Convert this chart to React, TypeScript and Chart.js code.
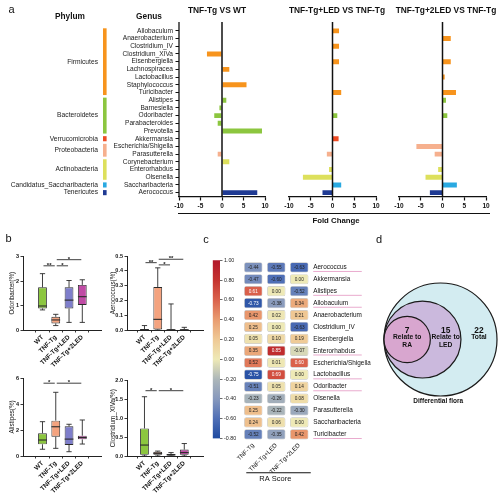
import React, { useEffect, useRef } from 'react';
import { Chart, registerables } from 'chart.js';

Chart.register(...registerables);

const FONT = "Arial, 'Liberation Sans', Helvetica, sans-serif";

// ===== Panel a: fold change by genus =====
const genera = ['Allobaculum', 'Anaerobacterium', 'Clostridium_IV', 'Clostridium_XIVa', 'Eisenbergiella', 'Lachnospiracea', 'Lactobacillus', 'Staphylococcus', 'Turicibacter', 'Alistipes', 'Barnesiella', 'Odoribacter', 'Parabacteroides', 'Prevotella', 'Akkermansia', 'Escherichia/Shigella', 'Parasutterella', 'Corynebacterium', 'Enterorhabdus', 'Olsenella', 'Saccharibacteria', 'Aerococcus'];
const phyla = ['Firmicutes', 'Bacteroidetes', 'Verrucomicrobia', 'Proteobacteria', 'Actinobacteria', 'Candidatus_Saccharibacteria', 'Tenericutes'];
const genusPhylum = [0, 0, 0, 0, 0, 0, 0, 0, 0, 1, 1, 1, 1, 1, 2, 3, 3, 4, 4, 4, 5, 6];
const phylumColors = ['#F7941D', '#8CC63F', '#EF4B24', '#F6B08E', '#DDE05C', '#29A9E1', '#1F3A93'];
const foldTgVsWT = [null, null, null, -3.5, null, 1.7, null, 5.7, null, 1.0, -0.6, -1.8, -1.0, 9.3, null, null, -1.0, 1.7, null, null, null, 8.2];
const foldLedVsTg = [1.5, null, 1.5, null, 1.5, null, null, null, 2.0, null, null, 1.1, null, null, 1.4, null, -1.3, null, -0.8, -6.8, 2.0, -2.3];
const fold2LedVsTg = [null, 1.9, null, null, 1.9, null, 0.5, null, 3.1, 0.8, null, 1.1, null, null, null, -6.0, -1.8, null, -1.0, -3.9, 3.3, -2.9];
const foldTitles = ['TNF-Tg VS WT', 'TNF-Tg+LED VS TNF-Tg', 'TNF-Tg+2LED VS TNF-Tg'];

// ===== Panel b: box plots, each group = [min, q1, median, q3, max] =====
const groups = ['WT', 'TNF-Tg', 'TNF-Tg+LED', 'TNF-Tg+2LED'];
const groupColors = ['#8CC63F', '#F4A37F', '#7E7ECB', '#C04BA5'];
const odoribacterStats = [[0.82, 0.88, 0.98, 1.74, 2.3], [0.18, 0.27, 0.41, 0.54, 0.64], [0.31, 0.88, 1.22, 1.74, 2.02], [0.31, 1.02, 1.36, 1.84, 2.05]];
const odoribacterSig = [[0, 1, '**', 2.62], [1, 2, '*', 2.62], [1, 3, '*', 2.87]];
const aerococcusStats = [[0, 0, 0.003, 0.006, 0.03], [0, 0.004, 0.072, 0.29, 0.42], [0, 0, 0.002, 0.005, 0.176], [0, 0, 0.002, 0.004, 0.018]];
const aerococcusSig = [[0, 1, '**', 0.455], [1, 2, '*', 0.44], [1, 3, '**', 0.478]];
const alistipesStats = [[0.52, 0.9, 1.23, 1.75, 2.64], [0.59, 1.48, 2.25, 2.72, 4.9], [0.33, 0.85, 1.3, 2.28, 2.44], [0.92, 1.28, 1.42, 1.56, 2.77]];
const alistipesSig = [[0, 1, '*', 5.6], [1, 3, '*', 5.6]];
const clostridiumStats = [[0, 0.03, 0.29, 0.73, 1.57], [0, 0.03, 0.07, 0.11, 0.13], [0, 0.01, 0.03, 0.05, 0.09], [0, 0.03, 0.09, 0.17, 0.33]];
const clostridiumSig = [[0, 1, '*', 1.73], [1, 3, '*', 1.73]];

// ===== Panel c: RA score heatmap =====
const raGenera = ['Aerococcus', 'Akkermansia', 'Alistipes', 'Allobaculum', 'Anaerobacterium', 'Clostridium_IV', 'Eisenbergiella', 'Enterorhabdus', 'Escherichia/Shigella', 'Lactobacillus', 'Odoribacter', 'Olsenella', 'Parasutterella', 'Saccharibacteria', 'Turicibacter'];
const raGroups = ['TNF-Tg', 'TNF-Tg+LED', 'TNF-Tg+2LED'];
const raScoreTg = [-0.44, -0.47, 0.61, -0.73, 0.42, 0.25, 0.05, 0.35, 0.52, -0.75, -0.51, -0.23, 0.25, 0.24, -0.52];
const raScoreLed = [-0.55, -0.60, 0.00, -0.38, 0.02, 0.00, 0.10, 0.85, 0.01, 0.69, 0.05, -0.26, -0.22, 0.06, -0.35];
const raScore2Led = [-0.63, 0.00, -0.52, 0.34, 0.21, -0.63, 0.19, -0.07, 0.60, 0.00, 0.14, 0.08, -0.30, 0.00, 0.42];
const raUnderlined = ['Aerococcus', 'Alistipes', 'Allobaculum', 'Enterorhabdus', 'Lactobacillus', 'Odoribacter', 'Turicibacter'];
const corrMin = -0.8;
const corrMax = 1.0;
const corrStops: [number, string][] = [[-0.8, '#1E4AA0'], [-0.6, '#4F6FB6'], [-0.4, '#8799BD'], [-0.2, '#ADB7B9'], [0, '#EEE9B6'], [0.2, '#EFC995'], [0.4, '#E99C70'], [0.6, '#DA624C'], [0.8, '#C5332F'], [1.0, '#B2182B']];

// ===== Panel d: nested sets =====
const vennCounts = [22, 15, 7];
const vennLines = [['Total'], ['Relate to', 'LED'], ['Relate to', 'RA']];
const vennRadius = [1, 0.681, 0.41];
const vennColors = ['#D3ECF1', '#CBB9DD', '#D8A6CF'];
const vennXMin = -1.1062, vennXMax = 1.0177, vennYMin = -1.336, vennYMax = 1.584;
const vennCanvasW = 120;

// ---------- helpers ----------
function hexToRgb(h: string) {
  const n = parseInt(h.slice(1), 16);
  return [(n >> 16) & 255, (n >> 8) & 255, n & 255];
}
function corrColor(v: number) {
  const c = Math.max(corrMin, Math.min(corrMax, v));
  for (let i = 0; i < corrStops.length - 1; i++) {
    const [v0, c0] = corrStops[i];
    const [v1, c1] = corrStops[i + 1];
    if (c >= v0 && c <= v1) {
      const t = (c - v0) / (v1 - v0);
      const a = hexToRgb(c0), b = hexToRgb(c1);
      const m = a.map((x, k) => Math.round(x + (b[k] - x) * t));
      return `rgb(${m[0]},${m[1]},${m[2]})`;
    }
  }
  return corrStops[corrStops.length - 1][1];
}

const base: any = {
  responsive: false,
  animation: false,
  devicePixelRatio: 1,
  events: [],
  plugins: { legend: { display: false }, tooltip: { enabled: false }, title: { display: false } },
};

function seg(ctx: any, x1: number, y1: number, x2: number, y2: number) {
  ctx.beginPath();
  ctx.moveTo(x1, y1);
  ctx.lineTo(x2, y2);
  ctx.stroke();
}

// ---------- panel a ----------
const zeroLinePlugin = (withSpine: boolean) => ({
  id: 'zeroLine',
  afterDatasetsDraw(chart: any) {
    const { ctx, chartArea: a, scales } = chart;
    const zx = scales.x.getPixelForValue(0);
    ctx.save();
    ctx.strokeStyle = '#111';
    ctx.lineWidth = 1.5;
    seg(ctx, zx, a.top - 5, zx, a.bottom);
    if (withSpine) {
      ctx.lineWidth = 1.3;
      seg(ctx, a.left, a.top - 5, a.left, a.bottom);
    }
    ctx.restore();
  },
});

const phylumPlugin = {
  id: 'phylum',
  afterDraw(chart: any) {
    const { ctx, scales } = chart;
    const y = scales.y;
    const band = y.getPixelForValue(1) - y.getPixelForValue(0);
    ctx.save();
    ctx.font = `6.7px ${FONT}`;
    ctx.textAlign = 'right';
    ctx.textBaseline = 'middle';
    phyla.forEach((name, p) => {
      const rows = genusPhylum.map((g, i) => (g === p ? i : -1)).filter((i) => i >= 0);
      const top = y.getPixelForValue(rows[0]) - band / 2 + 1.3;
      const bottom = y.getPixelForValue(rows[rows.length - 1]) + band / 2 - 1.3;
      ctx.fillStyle = phylumColors[p];
      ctx.fillRect(103, top, 3.6, bottom - top);
      ctx.fillStyle = '#222';
      ctx.fillText(name, 98, (top + bottom) / 2);
    });
    ctx.font = `bold 8.3px ${FONT}`;
    ctx.textAlign = 'center';
    ctx.fillStyle = '#111';
    ctx.fillText('Phylum', 70, 17);
    ctx.fillText('Genus', 149, 17);
    ctx.restore();
  },
};

function foldChart(values: any[], first: boolean, padLeft: number, padRight: number) {
  return () => ({
    type: 'bar',
    data: {
      labels: genera,
      datasets: [{
        data: values,
        backgroundColor: genusPhylum.map((p) => phylumColors[p]),
        categoryPercentage: 1,
        barPercentage: 0.64,
        borderWidth: 0,
      }],
    },
    options: {
      ...base,
      indexAxis: 'y',
      layout: { padding: { top: 27, bottom: 4.5, left: padLeft, right: padRight } },
      scales: {
        x: {
          type: 'linear', min: -10, max: 10,
          ticks: { stepSize: 5, color: '#111', padding: 1.5, maxRotation: 0, font: { family: FONT, size: 6.5, weight: 'bold' } },
          grid: { drawOnChartArea: false, drawTicks: true, tickLength: 4, tickColor: '#111', tickWidth: 1.2 },
          border: { display: true, color: '#111', width: 1.3 },
          afterFit: (s: any) => { s.height = 15; },
        },
        y: {
          type: 'category', display: first, offset: true,
          ticks: { color: '#222', padding: 2.5, autoSkip: false, font: { family: FONT, size: 6.6 } },
          grid: { offset: false, drawOnChartArea: false, drawTicks: true, tickLength: 3.5, tickColor: '#111', tickWidth: 1 },
          border: { display: false },
          afterFit: (s: any) => { s.width = first ? 179 : 0; },
        },
      },
    },
    plugins: first ? [zeroLinePlugin(true), phylumPlugin] : [zeroLinePlugin(false)],
  });
}

// ---------- panel b ----------
const boxPlugin = (stats: number[][], sig: any[]) => ({
  id: 'boxWhiskers',
  afterDatasetsDraw(chart: any) {
    const { ctx, scales } = chart;
    const x = scales.x, y = scales.y;
    const meta = chart.getDatasetMeta(0);
    ctx.save();
    ctx.strokeStyle = '#2a2a2a';
    ctx.lineWidth = 0.9;
    stats.forEach((s, i) => {
      const cx = x.getPixelForValue(i);
      const w = meta.data[i].width;
      const py = (v: number) => y.getPixelForValue(v);
      seg(ctx, cx, py(s[3]), cx, py(s[4]));
      seg(ctx, cx, py(s[1]), cx, py(s[0]));
      seg(ctx, cx - w * 0.3, py(s[4]), cx + w * 0.3, py(s[4]));
      seg(ctx, cx - w * 0.3, py(s[0]), cx + w * 0.3, py(s[0]));
      ctx.lineWidth = 1.1;
      seg(ctx, cx - w / 2, py(s[2]), cx + w / 2, py(s[2]));
      ctx.lineWidth = 0.9;
    });
    ctx.fillStyle = '#111';
    ctx.font = `bold 6px ${FONT}`;
    ctx.textAlign = 'center';
    ctx.textBaseline = 'alphabetic';
    sig.forEach(([a, b, label, level]) => {
      const yy = y.getPixelForValue(level);
      const xa = x.getPixelForValue(a), xb = x.getPixelForValue(b);
      seg(ctx, xa + 1, yy, xb - 1, yy);
      ctx.fillText(label, (xa + xb) / 2, yy + 1.2);
    });
    ctx.restore();
  },
});

function boxChart(stats: number[][], sig: any[], o: any) {
  return () => ({
    type: 'bar',
    data: {
      datasets: [{
        data: stats.map((s, i) => ({ x: i, y: [s[1], s[3]] })),
        backgroundColor: groupColors,
        borderColor: '#2a2a2a',
        borderWidth: 0.9,
        borderSkipped: false,
        categoryPercentage: 1,
        barPercentage: 0.66,
      }],
    },
    options: {
      ...base,
      layout: { padding: { top: o.padTop, right: o.padRight, left: 0, bottom: 0 } },
      scales: {
        x: {
          type: 'linear', min: o.xMin, max: 3.7,
          afterBuildTicks: (s: any) => { s.ticks = groups.map((_, i) => ({ value: i })); },
          ticks: { autoSkip: false, minRotation: 45, maxRotation: 45, padding: 1, color: '#111', font: { family: FONT, size: 6.4, weight: 'bold' }, callback: (v: any) => groups[v] },
          grid: { drawOnChartArea: false, drawTicks: true, tickLength: 2.5, tickColor: '#222', tickWidth: 0.9 },
          border: { display: true, color: '#222', width: 1 },
          afterFit: (s: any) => { s.height = o.xAxisH; },
        },
        y: {
          type: 'linear', min: 0, max: o.yMax,
          ticks: { stepSize: o.step, color: '#111', padding: 1.5, font: { family: FONT, size: 5.5, weight: 'bold' }, callback: (v: any) => (+v).toFixed(o.decimals) },
          grid: { drawOnChartArea: false, drawTicks: true, tickLength: 2.5, tickColor: '#222', tickWidth: 0.9 },
          border: { display: true, color: '#222', width: 1 },
          title: { display: true, text: o.title, padding: 0, color: '#111', font: { family: FONT, size: 6.3 } },
          afterFit: (s: any) => { s.width = o.yAxisW; },
        },
      },
    },
    plugins: [boxPlugin(stats, sig)],
  });
}

// ---------- panel c ----------
const heatColumns = [raScoreTg, raScoreLed, raScore2Led];

const heatPlugin = {
  id: 'heatText',
  afterDatasetsDraw(chart: any) {
    const { ctx, chartArea: a, scales } = chart;
    const y = scales.y;
    ctx.save();
    ctx.font = `4.7px ${FONT}`;
    ctx.textAlign = 'center';
    ctx.textBaseline = 'middle';
    heatColumns.forEach((vals, c) => {
      const meta = chart.getDatasetMeta(c);
      vals.forEach((v, r) => {
        const p = meta.data[r].getCenterPoint();
        ctx.fillStyle = v >= 0.6 || v <= -0.7 ? '#fff' : '#222';
        ctx.fillText(v.toFixed(2), p.x, p.y + 0.3);
      });
    });
    const band = y.getPixelForValue(1) - y.getPixelForValue(0);
    ctx.strokeStyle = '#E6A2C8';
    ctx.lineWidth = 0.9;
    raGenera.forEach((g, r) => {
      if (raUnderlined.includes(g)) {
        const yy = y.getPixelForValue(r) + band / 2 - 1.8;
        seg(ctx, a.right + 2.5, yy, a.right + 51, yy);
      }
    });
    ctx.strokeStyle = '#111';
    ctx.lineWidth = 1.1;
    const ly = a.bottom + 32.4;
    seg(ctx, a.left + 4.5, ly, a.right, ly);
    ctx.fillStyle = '#111';
    ctx.font = `7.5px ${FONT}`;
    ctx.fillText('RA Score', (a.left + a.right) / 2 - 1, ly + 6);
    ctx.restore();
  },
};

function heatChart() {
  return {
    type: 'bar',
    data: {
      labels: raGenera,
      datasets: heatColumns.map((vals, c) => ({
        data: vals.map(() => [c + 0.1, c + 0.9]),
        backgroundColor: vals.map(corrColor),
        borderColor: 'rgba(70,70,70,0.35)',
        borderWidth: 0.7,
        borderRadius: 2,
        borderSkipped: false,
        grouped: false,
        categoryPercentage: 1,
        barPercentage: 0.85,
      })),
    },
    options: {
      ...base,
      indexAxis: 'y',
      layout: { padding: { left: 4.25, top: 5, right: 0.25, bottom: 0 } },
      scales: {
        x: {
          type: 'linear', min: 0, max: 3,
          afterBuildTicks: (s: any) => { s.ticks = raGroups.map((_, i) => ({ value: i + 0.5 })); },
          ticks: { autoSkip: false, minRotation: 45, maxRotation: 45, padding: 1.5, color: '#111', font: { family: FONT, size: 6.2 }, callback: (v: any) => raGroups[Math.floor(v)] },
          grid: { display: false, drawTicks: false },
          border: { display: false },
          afterFit: (s: any) => { s.height = 46.7; },
        },
        y: {
          type: 'category', position: 'right', offset: true,
          ticks: { autoSkip: false, padding: 2.5, color: '#111', font: { family: FONT, size: 6.4 } },
          grid: { display: false, drawTicks: false },
          border: { display: false },
          afterFit: (s: any) => { s.width = 60; },
        },
      },
    },
    plugins: [heatPlugin],
  };
}

function colorBarChart() {
  return {
    type: 'bar',
    data: {
      labels: ['RA'],
      datasets: [{
        data: [[corrMin, corrMax]],
        backgroundColor: (c: any) => {
          const chart = c.chart;
          if (!chart.chartArea) return '#ccc';
          const y = chart.scales.y;
          const g = chart.ctx.createLinearGradient(0, y.getPixelForValue(corrMin), 0, y.getPixelForValue(corrMax));
          corrStops.forEach(([v, col]) => g.addColorStop((v - corrMin) / (corrMax - corrMin), col));
          return g;
        },
        categoryPercentage: 1,
        barPercentage: 1,
        borderWidth: 0,
      }],
    },
    options: {
      ...base,
      layout: { padding: { left: 8.7, top: 8.3, bottom: 8.5, right: 0 } },
      scales: {
        x: { display: false },
        y: {
          position: 'right', min: corrMin, max: corrMax,
          ticks: { stepSize: 0.2, color: '#222', padding: 1.5, font: { family: FONT, size: 5.3 }, callback: (v: any) => (Math.abs(v) < 1e-9 ? '0.00' : (+v).toFixed(2)) },
          grid: { drawOnChartArea: false, drawTicks: true, tickLength: 2.5, tickColor: '#444', tickWidth: 0.8 },
          border: { display: false },
          afterFit: (s: any) => { s.width = 24; },
        },
      },
    },
  };
}

// ---------- panel d ----------
const vennPlugin = {
  id: 'vennText',
  afterDatasetsDraw(chart: any) {
    const { ctx, scales } = chart;
    const x = scales.x, y = scales.y;
    ctx.save();
    ctx.fillStyle = '#111';
    ctx.textAlign = 'center';
    ctx.textBaseline = 'middle';
    vennRadius.forEach((r, i) => {
      const inner = vennRadius[i + 1];
      const cv = inner === undefined ? r - 1 : inner + r - 1;
      const px = x.getPixelForValue(cv);
      const py = y.getPixelForValue(0);
      ctx.font = `bold 8.4px ${FONT}`;
      ctx.fillText(String(vennCounts[i]), px, py - 8.5);
      ctx.font = `bold 6.7px ${FONT}`;
      vennLines[i].forEach((t, k) => ctx.fillText(t, px, py - 2 + k * 7.5));
    });
    ctx.font = `bold 6.5px ${FONT}`;
    ctx.fillText('Differential flora', x.getPixelForValue(-0.04), y.getPixelForValue(-1) + 5.5);
    ctx.restore();
  },
};

function vennChart() {
  const pxPerUnit = vennCanvasW / (vennXMax - vennXMin);
  return {
    type: 'bubble',
    data: {
      datasets: [{
        data: vennRadius.map((r) => ({ x: r - 1, y: 0, r: r * pxPerUnit })),
        backgroundColor: vennColors,
        borderColor: '#1a1a1a',
        borderWidth: 1.2,
        clip: false,
      }],
    },
    options: {
      ...base,
      layout: { padding: 0, autoPadding: false },
      scales: {
        x: { type: 'linear', display: false, min: vennXMin, max: vennXMax },
        y: { type: 'linear', display: false, min: vennYMin, max: vennYMax },
      },
    },
    plugins: [vennPlugin],
  };
}

// ---------- components ----------
function ChartBox({ left, top, width, height, make }: any) {
  const ref = useRef<HTMLCanvasElement>(null);
  useEffect(() => {
    const chart = new Chart(ref.current as any, make());
    return () => chart.destroy();
  }, []);
  return <canvas ref={ref} width={width} height={height} style={{ position: 'absolute', left, top, width, height }} />;
}

function Label({ x, y, text, size, bold, align = 'center' }: any) {
  const w = 300;
  const left = align === 'center' ? x - w / 2 : align === 'right' ? x - w : x;
  return (
    <div style={{ position: 'absolute', left, top: y - size, width: w, height: size * 2, lineHeight: `${size * 2}px`, fontSize: size, fontFamily: FONT, fontWeight: bold ? 'bold' : 'normal', textAlign: align, whiteSpace: 'nowrap', color: '#111' }}>{text}</div>
  );
}

export default function App() {
  return (
    <div style={{ position: 'fixed', left: 0, top: 0, width: 498, height: 500, overflow: 'hidden', background: '#fff' }}>
      {/* panel a */}
      <ChartBox left={0} top={0} width={275} height={216} make={foldChart(foldTgVsWT, true, 0, 10)} />
      <ChartBox left={275} top={0} width={110} height={216} make={foldChart(foldLedVsTg, false, 14, 9)} />
      <ChartBox left={385} top={0} width={113} height={216} make={foldChart(fold2LedVsTg, false, 14, 12)} />
      <Label x={217} y={10} text={foldTitles[0]} size={8.4} bold />
      <Label x={337} y={10} text={foldTitles[1]} size={8.4} bold />
      <Label x={446} y={10} text={foldTitles[2]} size={8.4} bold />
      <div style={{ position: 'absolute', left: 178, top: 212.5, width: 312, height: 0, borderTop: '1.2px solid #111' }} />
      <Label x={336} y={220.5} text="Fold Change" size={7.8} bold />

      {/* panel b */}
      <ChartBox left={8} top={248} width={100} height={127} make={boxChart(odoribacterStats, odoribacterSig, { padTop: 8.5, padRight: 6.6, xMin: -0.73, yMax: 3, step: 1, decimals: 0, title: 'Odoribacter(%)', yAxisW: 15, xAxisH: 45 })} />
      <ChartBox left={109} top={248} width={99} height={127} make={boxChart(aerococcusStats, aerococcusSig, { padTop: 8, padRight: 4.9, xMin: -0.6, yMax: 0.5, step: 0.1, decimals: 1, title: 'Aerococcus(%)', yAxisW: 18, xAxisH: 45 })} />
      <ChartBox left={8} top={369} width={100} height={131} make={boxChart(alistipesStats, alistipesSig, { padTop: 9, padRight: 6.6, xMin: -0.73, yMax: 6, step: 2, decimals: 0, title: 'Alistipes(%)', yAxisW: 15, xAxisH: 44 })} />
      <ChartBox left={109} top={372} width={99} height={128} make={boxChart(clostridiumStats, clostridiumSig, { padTop: 8.5, padRight: 4.9, xMin: -0.6, yMax: 2, step: 0.5, decimals: 1, title: 'Clostridium_XIVa(%)', yAxisW: 18, xAxisH: 44 })} />

      {/* panel c */}
      <ChartBox left={204} top={252} width={40} height={195} make={colorBarChart} />
      <ChartBox left={236} top={255} width={135} height={232} make={heatChart} />

      {/* panel d */}
      <ChartBox left={378} top={250} width={vennCanvasW} height={165} make={vennChart} />

      <Label x={11.5} y={8.5} text="a" size={11} />
      <Label x={8.5} y={238} text="b" size={11} />
      <Label x={206} y={239} text="c" size={11} />
      <Label x={379} y={238.5} text="d" size={11} />
    </div>
  );
}
